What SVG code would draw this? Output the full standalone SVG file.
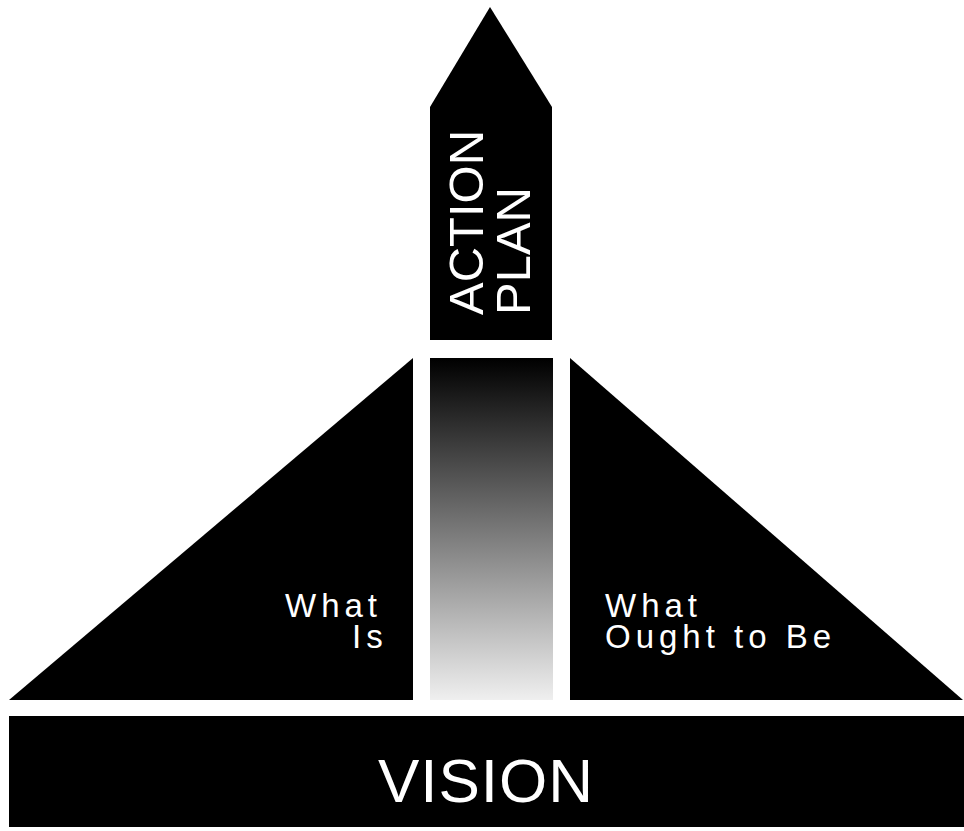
<svg xmlns="http://www.w3.org/2000/svg" width="964" height="831" viewBox="0 0 964 831">
  <style>
    .shape { fill: #000; }
    .lbl { fill: #fff; font-family: "Liberation Sans", Arial, sans-serif; }
    .small { font-size: 33px; letter-spacing: 5px; }
  </style>
  <defs>
    <linearGradient id="grad" x1="0" y1="0" x2="0" y2="1">
      <stop offset="0" stop-color="#000"/>
      <stop offset="1" stop-color="#efefef"/>
    </linearGradient>
  </defs>
  <rect width="964" height="831" fill="#fff"/>
  <g id="action-plan">
    <polygon class="shape" points="490,7 552,107 552,340 430,340 430,107"/>
    <text class="lbl" font-size="49" transform="translate(483,315) rotate(-90)">ACTION</text>
    <text class="lbl" font-size="49" transform="translate(530,315) rotate(-90)">PLAN</text>
  </g>
  <g id="bridge">
    <rect x="430" y="358" width="123" height="342" fill="url(#grad)"/>
  </g>
  <g id="what-is">
    <polygon class="shape" points="413,358 413,700 9,700"/>
    <text class="lbl small" x="285" y="617">What</text>
    <text class="lbl small" x="352" y="648">Is</text>
  </g>
  <g id="what-ought">
    <polygon class="shape" points="570,358 963,700 570,700"/>
    <text class="lbl small" x="605" y="617">What</text>
    <text class="lbl small" x="605" y="648">Ought to Be</text>
  </g>
  <g id="vision">
    <rect class="shape" x="9" y="716" width="955" height="111"/>
    <text class="lbl" font-size="62" x="486" y="802" text-anchor="middle" letter-spacing="1">VISION</text>
  </g>
  <g id="connectors"/>
</svg>
